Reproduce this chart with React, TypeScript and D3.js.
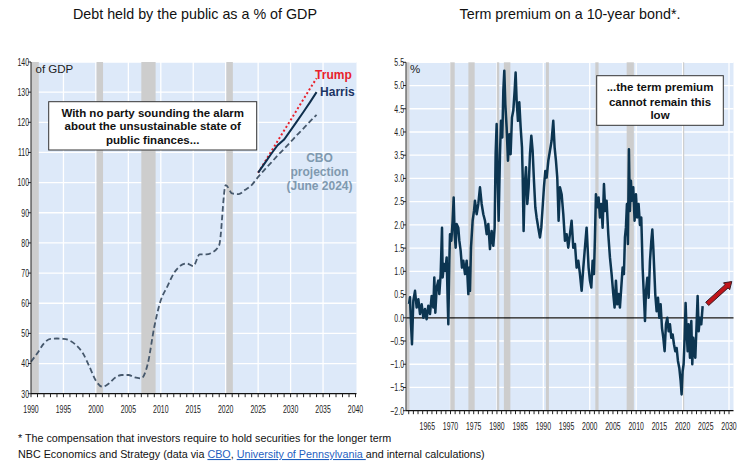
import React from 'react';
import * as d3 from 'd3';

// ---------- Debt held by the public (% of GDP) ----------
const debtYears = [
  1990, 1991, 1992, 1993, 1994, 1995, 1996, 1997, 1998, 1999,
  2000, 2001, 2002, 2003, 2004, 2005, 2006, 2007, 2008, 2009,
  2010, 2011, 2012, 2013, 2014, 2015, 2016, 2017, 2018, 2019,
  2020, 2021, 2022, 2023, 2024, 2025, 2026, 2027, 2028, 2029,
  2030, 2031, 2032, 2033, 2034,
];
const debtCbo = [
  40.6, 43.5, 46.7, 48.2, 48.3, 48.2, 47.6, 46.0, 43.4, 39.0,
  34.3, 32.3, 33.4, 35.4, 36.2, 36.2, 35.4, 35.1, 40.0, 52.2,
  61.0, 65.5, 69.9, 72.4, 73.2, 72.3, 76.2, 76.2, 76.9, 79.3,
  99.2, 96.4, 96.2, 97.6, 99.2, 101.9, 104.3, 106.6, 109.0, 111.2,
  113.5, 115.8, 118.0, 120.3, 122.5,
];
const scenarioYears = [2025, 2026, 2027, 2028, 2029, 2030, 2031, 2032, 2033, 2034];
const debtHarris = [103.3, 106.4, 109.5, 112.4, 114.3, 117.3, 120.4, 123.5, 126.7, 130.0];
const debtTrump = [103.3, 106.8, 110.3, 113.8, 117.3, 120.7, 124.2, 127.7, 131.2, 134.6];

const debtRecessions: [number, number][] = [
  [1990.0, 1991.2], [2000.1, 2001.1], [2007.0, 2009.2], [2020.1, 2021.1],
];
const debtYTicks = [30, 40, 50, 60, 70, 80, 90, 100, 110, 120, 130, 140];
const debtXTicks = [1990, 1995, 2000, 2005, 2010, 2015, 2020, 2025, 2030, 2035, 2040];

// ---------- 10-year term premium (%) ----------
const tpYears = [
  1961.06, 1961.27, 1961.49, 1961.70, 1961.99, 1962.35, 1962.71, 1963.07, 1963.43, 1963.79,
  1964.15, 1964.50, 1964.86, 1965.22, 1965.58, 1965.94, 1966.30, 1966.51, 1966.73, 1967.02,
  1967.38, 1967.59, 1967.88, 1968.17, 1968.31, 1968.60, 1968.88, 1969.17, 1969.39, 1969.53,
  1969.75, 1969.89, 1970.18, 1970.46, 1970.68, 1970.89, 1971.11, 1971.32, 1971.68, 1971.90,
  1972.19, 1972.47, 1972.76, 1973.12, 1973.48, 1973.84, 1974.05, 1974.20, 1974.41, 1974.77,
  1975.06, 1975.27, 1975.63, 1975.99, 1976.35, 1976.71, 1977.07, 1977.43, 1977.79, 1978.14,
  1978.50, 1978.86, 1979.22, 1979.51, 1979.72, 1979.94, 1980.15, 1980.37, 1980.66, 1980.87,
  1981.16, 1981.38, 1981.59, 1981.81, 1982.09, 1982.38, 1982.67, 1982.95, 1983.24, 1983.53,
  1983.82, 1984.03, 1984.25, 1984.53, 1984.82, 1985.11, 1985.40, 1985.54, 1985.75, 1985.97,
  1986.26, 1986.54, 1986.83, 1987.12, 1987.41, 1987.69, 1987.98, 1988.27, 1988.55, 1988.91,
  1989.27, 1989.56, 1989.85, 1990.13, 1990.42, 1990.71, 1991.07, 1991.43, 1991.78, 1992.14,
  1992.43, 1992.72, 1993.00, 1993.29, 1993.58, 1993.94, 1994.30, 1994.66, 1995.02, 1995.37,
  1995.73, 1996.09, 1996.45, 1996.81, 1997.17, 1997.53, 1997.89, 1998.25, 1998.61, 1998.96,
  1999.32, 1999.54, 1999.75, 2000.04, 2000.33, 2000.62, 2000.90, 2001.12, 2001.33, 2001.62,
  2001.91, 2002.19, 2002.48, 2002.77, 2003.06, 2003.34, 2003.63, 2003.99, 2004.35, 2004.71,
  2005.07, 2005.35, 2005.64, 2005.93, 2006.21, 2006.50, 2006.79, 2007.08, 2007.36, 2007.58,
  2007.79, 2008.01, 2008.22, 2008.44, 2008.65, 2008.87, 2009.09, 2009.37, 2009.66, 2009.95,
  2010.23, 2010.52, 2010.81, 2011.10, 2011.39, 2011.68, 2011.90, 2012.11, 2012.40, 2012.69,
  2012.97, 2013.26, 2013.48, 2013.69, 2013.91, 2014.12, 2014.41, 2014.70, 2014.98, 2015.27,
  2015.56, 2015.85, 2016.13, 2016.42, 2016.71, 2017.00, 2017.28, 2017.57, 2017.86, 2018.14,
  2018.43, 2018.72, 2019.00, 2019.29, 2019.58, 2019.79, 2020.01, 2020.22, 2020.44, 2020.65,
  2020.87, 2021.09, 2021.30, 2021.59, 2021.88, 2022.09, 2022.31, 2022.52, 2022.74, 2023.02,
  2023.24, 2023.46, 2023.74, 2024.03, 2024.32,
];
const tpValues = [
  0.30, 0.44, -0.14, -0.57, 0.37, 0.58, 0.22, 0.40, 0.08, 0.29,
  0.00, 0.19, -0.03, 0.26, 0.08, 0.47, 0.22, 0.87, 0.11, 0.65,
  0.80, 0.51, 0.94, 1.94, 0.87, 1.16, 1.01, 1.30, 0.37, -0.14,
  1.23, 1.80, 1.66, 2.09, 2.59, 1.80, 1.51, 2.02, 1.94, 1.66,
  1.44, 1.08, 1.23, 0.94, 1.23, 0.51, 1.08, 0.58, 1.51, 2.09,
  2.30, 2.52, 2.23, 2.45, 2.81, 2.45, 2.23, 2.09, 1.80, 2.02,
  1.48, 1.87, 1.55, 1.94, 3.52, 4.17, 3.02, 2.09, 3.52, 4.24,
  3.88, 4.89, 5.32, 4.60, 4.10, 3.38, 3.95, 3.52, 4.31, 4.46,
  4.89, 5.28, 4.67, 4.24, 4.64, 4.10, 3.67, 3.09, 1.87, 2.81,
  3.24, 2.45, 2.81, 3.52, 3.92, 3.60, 2.95, 2.38, 2.16, 1.94,
  1.73, 1.94, 2.38, 2.81, 3.16, 3.02, 3.38, 3.60, 3.81, 4.24,
  3.67, 3.38, 3.02, 2.09, 2.81, 2.66, 2.23, 1.66, 1.80, 1.51,
  1.80, 2.09, 1.51, 1.59, 1.08, 1.23, 0.94, 0.58, 1.08, 1.51,
  1.94, 1.51, 1.08, 0.80, 0.65, 1.23, 0.94, 1.73, 2.66, 2.38,
  2.59, 2.16, 2.45, 1.94, 2.88, 2.30, 2.52, 1.80, 1.30, 0.94,
  0.51, 0.22, 0.80, 0.29, 0.51, 0.22, 0.65, 1.08, 0.94, 1.73,
  1.94, 2.45, 1.59, 3.63, 2.30, 2.95, 2.52, 2.81, 2.09, 2.66,
  2.16, 2.45, 2.00, 2.16, 1.08, 0.43, -0.07, 0.57, 0.86, 0.43,
  1.22, 1.65, 1.90, 1.51, 1.00, 0.50, 0.14, 0.43, 0.00, 0.29,
  -0.22, -0.43, -0.72, -0.14, 0.00, -0.29, -0.14, -0.43, -0.36, -0.57,
  -0.72, -0.65, -0.93, -1.08, -1.36, -1.65, -1.15, -1.00, -0.43, 0.32,
  -0.29, -0.72, -0.14, -0.86, -0.07, -1.00, -0.43, -0.72, -0.86, -0.14,
  0.47, -0.29, 0.00, -0.14, 0.25,
];
const tpRecessions: [number, number][] = [
  [1960.41, 1961.15], [1969.95, 1970.9], [1973.85, 1975.2], [1980.0, 1980.5],
  [1981.5, 1982.9], [1990.55, 1991.2], [2001.2, 2001.9], [2007.95, 2009.5],
  [2020.1, 2020.35],
];
const tpYTicks = [-2.0, -1.5, -1.0, -0.5, 0.0, 0.5, 1.0, 1.5, 2.0, 2.5, 3.0, 3.5, 4.0, 4.5, 5.0, 5.5];
const tpXTicks = [1965, 1970, 1975, 1980, 1985, 1990, 1995, 2000, 2005, 2010, 2015, 2020, 2025, 2030];
const tpXGrid = [1970, 1980, 1990, 2000, 2010, 2020, 2030];
const tpArrow = { from: [2025.3, 0.3], to: [2030.6, 0.78] };

const SANS = "'Liberation Sans', Arial, sans-serif";
const PLOT_BG = '#DDE9F9';
const REC = '#CDCDCD';
const AXIS_TXT = '#222222';

// condensed tick label: regular sans squeezed horizontally
function TickLabel({
  x,
  y,
  anchor,
  children,
}: {
  x: number;
  y: number;
  anchor: 'start' | 'middle' | 'end';
  children: React.ReactNode;
}) {
  return (
    <text
      transform={`translate(${x},${y}) scale(0.63,1)`}
      textAnchor={anchor}
      fontFamily={SANS}
      fontSize={11}
      fill={AXIS_TXT}
    >
      {children}
    </text>
  );
}

export default function App() {
  // left panel scales
  const xL = d3.scaleLinear().domain([1990, 2040]).range([31, 355.5]);
  const yL = d3.scaleLinear().domain([30, 140]).range([393.7, 62]);
  // right panel scales
  const xR = d3.scaleLinear().domain([1965, 2030]).range([427.3, 729]);
  const yR = d3.scaleLinear().domain([-2, 5.5]).range([410.7, 62.3]);
  const rLeft = 406;
  const rRight = 733.5;

  const debtLine = d3
    .line<number>()
    .x((_, i) => xL(debtYears[i]))
    .y((d) => yL(d))
    .curve(d3.curveMonotoneX);
  const scenLine = d3
    .line<number>()
    .x((_, i) => xL(scenarioYears[i]))
    .y((d) => yL(d));
  const tpLine = d3
    .line<number>()
    .x((_, i) => xR(tpYears[i]))
    .y((d) => yR(d));

  // arrow polygon
  const ax0 = xR(tpArrow.from[0]);
  const ay0 = yR(tpArrow.from[1]);
  const ax1 = xR(tpArrow.to[0]);
  const ay1 = yR(tpArrow.to[1]);
  const len = Math.hypot(ax1 - ax0, ay1 - ay0);
  const ux = (ax1 - ax0) / len;
  const uy = (ay1 - ay0) / len;
  const nx = -uy;
  const ny = ux;
  const hw = 2.2;
  const HW = 4.6;
  const HL = 7;
  const bx = ax1 - ux * HL;
  const by = ay1 - uy * HL;
  const arrowPts = [
    [ax0 + nx * hw, ay0 + ny * hw],
    [bx + nx * hw, by + ny * hw],
    [bx + nx * HW, by + ny * HW],
    [ax1, ay1],
    [bx - nx * HW, by - ny * HW],
    [bx - nx * hw, by - ny * hw],
    [ax0 - nx * hw, ay0 - ny * hw],
  ]
    .map((p) => p.join(','))
    .join(' ');

  const debtMinor = d3.range(1990, 2041);
  const tpMinor = d3.range(1961, 2031);

  return (
    <svg
      width={756}
      height={462}
      viewBox="0 0 756 462"
      style={{ position: 'absolute', left: 0, top: 0, background: '#fff' }}
    >
      {/* titles */}
      <text x={195} y={19} textAnchor="middle" fontFamily={SANS} fontSize={14.3} fill="#111">
        Debt held by the public as a % of GDP
      </text>
      <text x={570} y={19} textAnchor="middle" fontFamily={SANS} fontSize={14.3} fill="#111">
        Term premium on a 10-year bond*.
      </text>

      {/* ===== Left panel ===== */}
      <rect x={xL(1990)} y={yL(140)} width={xL(2040) - xL(1990) + 1} height={yL(30) - yL(140)} fill={PLOT_BG} />
      {debtYTicks.map((t) => (
        <line key={'lgy' + t} x1={xL(1990)} x2={xL(2040) + 1} y1={yL(t)} y2={yL(t)} stroke="#fff" strokeWidth={1.3} />
      ))}
      {debtXTicks.slice(1, -1).map((t) => (
        <line key={'lgx' + t} x1={xL(t)} x2={xL(t)} y1={yL(140)} y2={yL(30)} stroke="#fff" strokeWidth={1.3} />
      ))}
      {debtRecessions.map(([a, b]) => (
        <rect key={'lr' + a} x={xL(a)} y={yL(140)} width={xL(b) - xL(a)} height={yL(30) - yL(140)} fill={REC} />
      ))}

      <path d={debtLine(debtCbo) || ''} fill="none" stroke="#46586C" strokeWidth={1.8} strokeDasharray="5.5,3" />
      <path d={scenLine(debtTrump) || ''} fill="none" stroke="#E8212B" strokeWidth={2} strokeDasharray="2,2.4" />
      <path d={scenLine(debtHarris) || ''} fill="none" stroke="#0F2E4C" strokeWidth={2} />

      <text x={xL(2034) - 1.5} y={79} fontFamily={SANS} fontSize={12} fontWeight="bold" fill="#E8212B">
        Trump
      </text>
      <text x={xL(2034) + 3.5} y={96} fontFamily={SANS} fontSize={12} fontWeight="bold" fill="#1B3464">
        Harris
      </text>
      <g fontFamily={SANS} fontSize={12} fontWeight="bold" fill="#7F99AF" textAnchor="middle">
        <text x={319.5} y={162}>CBO</text>
        <text x={319.5} y={176}>projection</text>
        <text x={319.5} y={190}>(June 2024)</text>
      </g>

      <text x={35.5} y={73} fontFamily={SANS} fontSize={11.5} fill="#222">
        of GDP
      </text>

      <rect x={48.7} y={101.7} width={208} height={48.3} fill="#fff" stroke="#333" strokeWidth={1} />
      <g fontFamily={SANS} fontSize={11.5} fontWeight="bold" fill="#111" textAnchor="middle">
        <text x={152.7} y={116.5}>With no party sounding the alarm</text>
        <text x={152.7} y={130.3}>about the unsustainable state of</text>
        <text x={152.7} y={144.1}>public finances...</text>
      </g>

      {/* left axes */}
      <line x1={xL(1990)} x2={xL(1990)} y1={yL(140)} y2={yL(30)} stroke="#222" strokeWidth={1} />
      <line x1={xL(1990)} x2={xL(2040) + 1} y1={yL(30)} y2={yL(30)} stroke="#111" strokeWidth={1.2} />
      {debtYTicks.map((t) => (
        <g key={'lyt' + t}>
          <line x1={xL(1990) - 3} x2={xL(1990)} y1={yL(t)} y2={yL(t)} stroke="#222" />
          <TickLabel x={xL(1990) - 2} y={yL(t) + 3.8} anchor="end">
            {t}
          </TickLabel>
        </g>
      ))}
      {debtMinor.map((t) => (
        <line key={'lxm' + t} x1={xL(t)} x2={xL(t)} y1={yL(30)} y2={yL(30) + 3.5} stroke="#222" />
      ))}
      {debtXTicks.map((t) => (
        <TickLabel key={'lxt' + t} x={xL(t)} y={yL(30) + 19} anchor="middle">
          {t}
        </TickLabel>
      ))}

      {/* ===== Right panel ===== */}
      <rect x={rLeft} y={yR(5.5)} width={rRight - rLeft} height={yR(-2) - yR(5.5)} fill={PLOT_BG} />
      {tpYTicks.map((t) => (
        <line key={'rgy' + t} x1={rLeft} x2={rRight} y1={yR(t)} y2={yR(t)} stroke="#fff" strokeWidth={1.3} />
      ))}
      {tpXGrid.map((t) => (
        <line key={'rgx' + t} x1={xR(t)} x2={xR(t)} y1={yR(5.5)} y2={yR(-2)} stroke="#fff" strokeWidth={1.3} />
      ))}
      {tpRecessions.map(([a, b]) => (
        <rect key={'rr' + a} x={Math.max(rLeft, xR(a))} y={yR(5.5)} width={xR(b) - Math.max(rLeft, xR(a))} height={yR(-2) - yR(5.5)} fill={REC} />
      ))}
      <line x1={rLeft} x2={rRight} y1={yR(0)} y2={yR(0)} stroke="#111" strokeWidth={1.3} />

      <path d={tpLine(tpValues) || ''} fill="none" stroke="#0C3551" strokeWidth={2.5} strokeLinejoin="round" />

      <polygon points={arrowPts} fill="#C0151B" stroke="#3A1A22" strokeWidth={1} strokeLinejoin="miter" />

      <text x={410} y={73} fontFamily={SANS} fontSize={11.5} fill="#222">
        %
      </text>

      <rect x={596.7} y={75.7} width={126.6} height={49.6} fill="#fff" stroke="#333" strokeWidth={1} />
      <g fontFamily={SANS} fontSize={11.5} fontWeight="bold" fill="#111" textAnchor="middle">
        <text x={660} y={91}>...the term premium</text>
        <text x={660} y={105.5}>cannot remain this</text>
        <text x={660} y={118.5}>low</text>
      </g>

      {/* right axes */}
      <line x1={rLeft} x2={rLeft} y1={yR(5.5)} y2={yR(-2)} stroke="#555" strokeWidth={1.2} />
      <line x1={rLeft} x2={rRight} y1={yR(-2)} y2={yR(-2)} stroke="#111" strokeWidth={1.2} />
      {tpYTicks.map((t) => (
        <g key={'ryt' + t}>
          <line x1={rLeft - 3} x2={rLeft} y1={yR(t)} y2={yR(t)} stroke="#222" />
          <TickLabel x={rLeft - 2} y={yR(t) + 3.8} anchor="end">
            {d3.format('.1f')(t)}
          </TickLabel>
        </g>
      ))}
      {tpMinor.map((t) => (
        <line key={'rxm' + t} x1={xR(t)} x2={xR(t)} y1={yR(-2)} y2={yR(-2) + 3.5} stroke="#222" />
      ))}
      {tpXTicks.map((t) => (
        <TickLabel key={'rxt' + t} x={xR(t)} y={yR(-2) + 19.5} anchor="middle">
          {t}
        </TickLabel>
      ))}

      {/* footnotes */}
      <text x={18} y={441.5} fontFamily={SANS} fontSize={10.75} fill="#111">
        * The compensation that investors require to hold securities for the longer term
      </text>
      <text x={18} y={458} fontFamily={SANS} fontSize={10.75} fill="#111">
        NBC Economics and Strategy (data via{' '}
        <tspan fill="#1F5FBF" textDecoration="underline">CBO</tspan>
        {', '}
        <tspan fill="#1F5FBF" textDecoration="underline">University of Pennsylvania </tspan>
        and internal calculations)
      </text>
    </svg>
  );
}
